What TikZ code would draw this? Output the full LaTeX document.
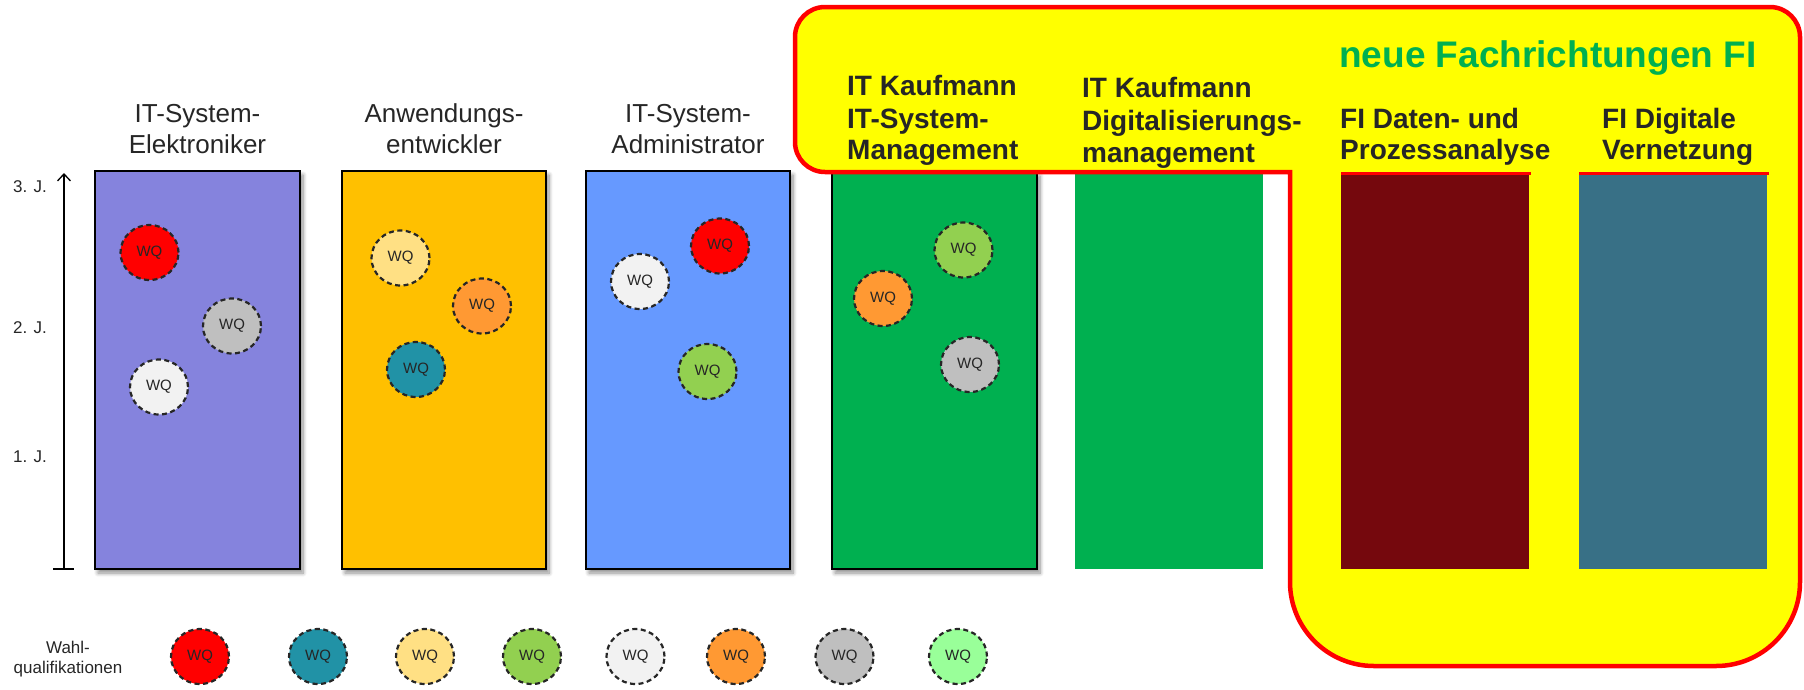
\documentclass[tikz,border=0pt]{standalone}
\usepackage{fontspec}
\setmainfont{Liberation Sans}
\usetikzlibrary{shapes.geometric,arrows.meta,shadows,shadows.blur}
\definecolor{cA}{RGB}{133,131,221}
\definecolor{cB}{RGB}{255,192,0}
\definecolor{cC}{RGB}{102,153,255}
\definecolor{cD}{RGB}{0,176,80}
\definecolor{cE}{RGB}{117,8,13}
\definecolor{cF}{RGB}{56,112,134}
\definecolor{hiyel}{RGB}{255,255,0}
\definecolor{hired}{RGB}{255,0,0}
\definecolor{wqred}{RGB}{255,0,0}
\definecolor{wqteal}{RGB}{33,146,166}
\definecolor{wqlyel}{RGB}{255,224,132}
\definecolor{wqgreen}{RGB}{146,208,80}
\definecolor{wqwhite}{RGB}{242,242,242}
\definecolor{wqorange}{RGB}{255,153,51}
\definecolor{wqgray}{RGB}{191,191,191}
\definecolor{wqlgreen}{RGB}{153,255,153}
\definecolor{txtgray}{RGB}{38,38,38}
\definecolor{newgreen}{RGB}{0,176,80}
\begin{document}
\begin{tikzpicture}[x=1pt,y=-1pt,
  colbox/.style={draw=black, line width=1.8pt, inner sep=0pt, outer sep=0pt,
    anchor=north west, minimum height=398pt,
    blur shadow={shadow xshift=3pt, shadow yshift=-4pt, shadow blur radius=4pt,
      shadow blur steps=8, shadow opacity=45}},
  plainbox/.style={inner sep=0pt, outer sep=0pt, anchor=north west, minimum height=396pt},
  wq/.style={ellipse, draw=black!85, dash pattern=on 5pt off 3.5pt, line width=2.2pt,
    minimum width=58pt, minimum height=55pt, inner sep=0pt,
    font=\fontsize{15}{17}\selectfont, text=black!85},
  ttl/.style={anchor=base, text=txtgray, font=\fontsize{26}{30}\selectfont, inner sep=0pt},
  btl/.style={anchor=base west, text=txtgray, font=\bfseries\fontsize{28}{32}\selectfont, inner sep=0pt},
  yl/.style={anchor=base west, text=txtgray, font=\fontsize{17}{20}\selectfont, inner sep=0pt},
  lg/.style={anchor=base, text=txtgray, font=\fontsize{17}{20}\selectfont, inner sep=0pt},
  redline/.style={draw=hired, line width=3pt},
  axis/.style={line width=1.3pt, draw=black}
]
\useasboundingbox (0,0) rectangle (1804,689);

% column boxes
\node[colbox, fill=cA, minimum width=205pt] (b1) at (95,171) {};
\node[colbox, fill=cB, minimum width=204pt] (b2) at (342,171) {};
\node[colbox, fill=cC, minimum width=204pt] (b3) at (586,171) {};
\node[colbox, fill=cD, minimum width=205pt, minimum height=397pt] (b4) at (832,172) {};
\node[plainbox, fill=cD, minimum width=188pt, minimum height=404pt] (b5) at (1075,165) {};

% yellow highlight
\draw[draw=hired, line width=4.5pt, fill=hiyel]
  (825,7) -- (1770,7) arc[start angle=-90, end angle=0, radius=30]
  -- (1800,582) arc[start angle=0, end angle=90, radius=84]
  -- (1374,666) arc[start angle=90, end angle=180, radius=84]
  -- (1290,172) -- (825,172) arc[start angle=90, end angle=180, radius=30]
  -- (795,37) arc[start angle=180, end angle=270, radius=30] -- cycle;

\node[plainbox, fill=cE, minimum width=188pt] (b6) at (1341,173) {};
\node[plainbox, fill=cF, minimum width=188pt] (b7) at (1579,173) {};
\draw[redline] (b6.north west) -- ([xshift=2pt]b6.north east);
\draw[redline] (b7.north west) -- ([xshift=2pt]b7.north east);

% axis
\coordinate (axb) at (64,569);
\coordinate (axt) at (64,173);
\coordinate (tkl) at (53,569);
\coordinate (tkr) at (74,569);
\draw[axis, -{Straight Barb[length=7pt, width=13pt]}] (axb) -- (axt);
\draw[axis] (tkl) -- (tkr);
\node[yl] (j3) at (13,192) {3. J.};
\node[yl] (j2) at (13,333) {2. J.};
\node[yl] (j1) at (13,462) {1. J.};

% titles
\node[ttl] (t1a) at (197.5,122) {IT-System-};
\node[ttl] (t1b) at (197.5,153) {Elektroniker};
\node[ttl] (t2a) at (444,122) {Anwendungs-};
\node[ttl] (t2b) at (444,153) {entwickler};
\node[ttl] (t3a) at (688,122) {IT-System-};
\node[ttl] (t3b) at (688,153) {Administrator};

\node[btl] (t4a) at (847,95) {IT Kaufmann};
\node[btl] (t4b) at (847,128) {IT-System-};
\node[btl] (t4c) at (847,159) {Management};
\node[btl] (t5a) at (1082,97) {IT Kaufmann};
\node[btl] (t5b) at (1082,130) {Digitalisierungs-};
\node[btl] (t5c) at (1082,162) {management};
\node[btl] (t6a) at (1340,128) {FI Daten- und};
\node[btl] (t6b) at (1340,159) {Prozessanalyse};
\node[btl] (t7a) at (1602,128) {FI Digitale};
\node[btl] (t7b) at (1602,159) {Vernetzung};
\node[anchor=base west, inner sep=0pt, text=newgreen, font=\bfseries\fontsize{37}{42}\selectfont] (neu) at (1339,67) {neue Fachrichtungen FI};

% WQ circles in boxes
\node[wq, fill=wqred] (w11) at (149.5,252.5) {WQ};
\node[wq, fill=wqgray] (w12) at (232,326) {WQ};
\node[wq, fill=wqwhite] (w13) at (159,387) {WQ};
\node[wq, fill=wqlyel] (w21) at (400.5,258) {WQ};
\node[wq, fill=wqorange] (w22) at (482,306) {WQ};
\node[wq, fill=wqteal] (w23) at (416,369.5) {WQ};
\node[wq, fill=wqred] (w31) at (720,246) {WQ};
\node[wq, fill=wqwhite] (w32) at (640,281.5) {WQ};
\node[wq, fill=wqgreen] (w33) at (707.5,371.5) {WQ};
\node[wq, fill=wqgreen] (w41) at (963.5,250) {WQ};
\node[wq, fill=wqorange] (w42) at (883,298.5) {WQ};
\node[wq, fill=wqgray] (w43) at (970,364.5) {WQ};

% legend
\node[lg] (lga) at (68,653) {Wahl-};
\node[lg] (lgb) at (68,673) {qualifikationen};
\node[wq, fill=wqred] (l1) at (200,656.5) {WQ};
\node[wq, fill=wqteal] (l2) at (318,656.5) {WQ};
\node[wq, fill=wqlyel] (l3) at (425,656.5) {WQ};
\node[wq, fill=wqgreen] (l4) at (532,656.5) {WQ};
\node[wq, fill=wqwhite] (l5) at (635.5,656.5) {WQ};
\node[wq, fill=wqorange] (l6) at (736,656.5) {WQ};
\node[wq, fill=wqgray] (l7) at (844.5,656.5) {WQ};
\node[wq, fill=wqlgreen] (l8) at (958,656.5) {WQ};
\end{tikzpicture}
\end{document}
